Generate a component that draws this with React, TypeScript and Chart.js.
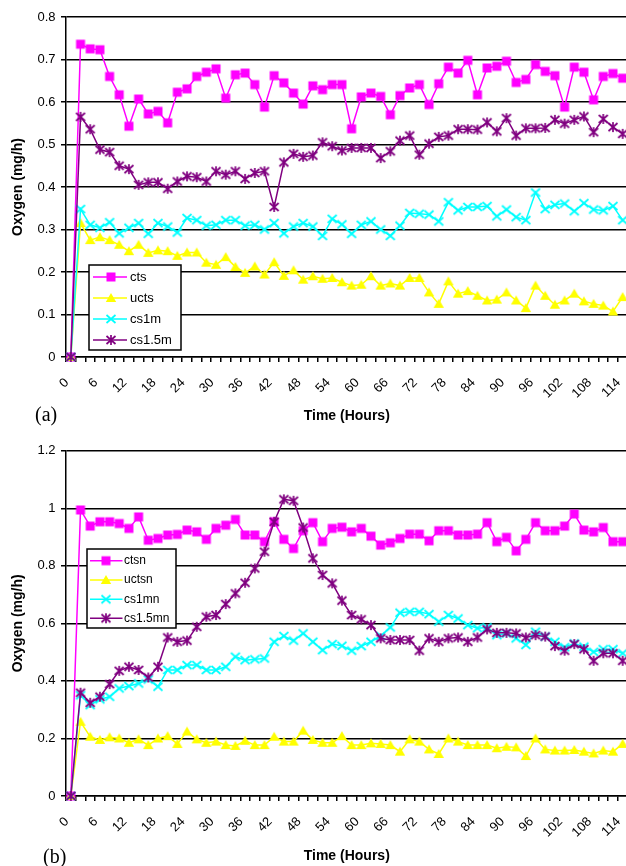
import React, { useEffect, useRef } from 'react';
import { Chart, registerables } from 'chart.js';

Chart.register(...registerables);

const FONT = '"Liberation Sans", Arial, sans-serif';
const SERIF = '"Liberation Serif", "Times New Roman", serif';

// time categories (hours)
const HOURS = [0, 2, 4, 6, 8, 10, 12, 14, 16, 18, 20, 22, 24, 26, 28, 30, 32, 34, 36, 38, 40, 42, 44, 46, 48, 50, 52, 54, 56, 58, 60, 62, 64, 66, 68, 70, 72, 74, 76, 78, 80, 82, 84, 86, 88, 90, 92, 94, 96, 98, 100, 102, 104, 106, 108, 110, 112, 114];
const HOUR_LABELS = HOURS.map((h) => String(h));

// panel (a)
const NAMES_A = ['cts', 'ucts', 'cs1m', 'cs1.5m'];
const CTS = [0, 0.736, 0.725, 0.723, 0.660, 0.617, 0.543, 0.607, 0.572, 0.578, 0.551, 0.623, 0.631, 0.660, 0.670, 0.678, 0.609, 0.664, 0.668, 0.641, 0.588, 0.662, 0.645, 0.621, 0.595, 0.638, 0.629, 0.641, 0.641, 0.537, 0.612, 0.621, 0.613, 0.570, 0.615, 0.633, 0.641, 0.594, 0.643, 0.682, 0.668, 0.698, 0.617, 0.680, 0.684, 0.696, 0.646, 0.653, 0.688, 0.672, 0.662, 0.588, 0.682, 0.670, 0.605, 0.660, 0.667, 0.656];
const UCTS = [0, 0.315, 0.275, 0.282, 0.275, 0.264, 0.249, 0.264, 0.245, 0.251, 0.249, 0.238, 0.246, 0.246, 0.222, 0.217, 0.235, 0.212, 0.198, 0.213, 0.194, 0.223, 0.191, 0.204, 0.182, 0.190, 0.184, 0.186, 0.176, 0.168, 0.170, 0.190, 0.168, 0.173, 0.168, 0.186, 0.186, 0.152, 0.125, 0.178, 0.149, 0.155, 0.144, 0.133, 0.135, 0.152, 0.133, 0.115, 0.168, 0.144, 0.123, 0.133, 0.149, 0.131, 0.125, 0.121, 0.107, 0.141];
const CS1M = [0, 0.348, 0.311, 0.304, 0.317, 0.291, 0.304, 0.315, 0.290, 0.315, 0.307, 0.293, 0.327, 0.322, 0.309, 0.311, 0.322, 0.322, 0.309, 0.311, 0.300, 0.315, 0.291, 0.307, 0.315, 0.307, 0.285, 0.325, 0.312, 0.290, 0.311, 0.319, 0.300, 0.285, 0.309, 0.339, 0.337, 0.335, 0.319, 0.364, 0.345, 0.353, 0.353, 0.355, 0.331, 0.347, 0.329, 0.322, 0.387, 0.348, 0.358, 0.361, 0.343, 0.362, 0.347, 0.345, 0.355, 0.322];
const CS15M = [0, 0.565, 0.536, 0.488, 0.482, 0.450, 0.442, 0.405, 0.411, 0.411, 0.396, 0.413, 0.425, 0.423, 0.413, 0.437, 0.429, 0.437, 0.419, 0.433, 0.437, 0.353, 0.458, 0.478, 0.471, 0.474, 0.505, 0.496, 0.486, 0.492, 0.492, 0.492, 0.468, 0.484, 0.509, 0.521, 0.476, 0.502, 0.518, 0.521, 0.536, 0.536, 0.535, 0.552, 0.531, 0.562, 0.521, 0.538, 0.538, 0.539, 0.558, 0.549, 0.558, 0.566, 0.529, 0.560, 0.541, 0.525];

// panel (b)
const NAMES_B = ['ctsn', 'uctsn', 'cs1mn', 'cs1.5mn'];
const CTSN = [0, 0.994, 0.938, 0.953, 0.953, 0.947, 0.930, 0.970, 0.889, 0.895, 0.907, 0.909, 0.924, 0.918, 0.892, 0.930, 0.941, 0.961, 0.907, 0.907, 0.884, 0.953, 0.892, 0.860, 0.922, 0.950, 0.884, 0.930, 0.934, 0.918, 0.930, 0.903, 0.872, 0.880, 0.895, 0.910, 0.910, 0.887, 0.922, 0.922, 0.907, 0.907, 0.910, 0.950, 0.884, 0.899, 0.852, 0.892, 0.950, 0.922, 0.922, 0.938, 0.980, 0.924, 0.918, 0.933, 0.884, 0.884];
const UCTSN = [0, 0.258, 0.206, 0.195, 0.204, 0.200, 0.185, 0.197, 0.177, 0.200, 0.208, 0.181, 0.224, 0.197, 0.185, 0.189, 0.177, 0.174, 0.192, 0.177, 0.177, 0.206, 0.189, 0.189, 0.227, 0.195, 0.185, 0.185, 0.208, 0.177, 0.177, 0.183, 0.181, 0.177, 0.154, 0.197, 0.189, 0.162, 0.146, 0.200, 0.189, 0.177, 0.177, 0.177, 0.166, 0.171, 0.169, 0.139, 0.200, 0.162, 0.158, 0.158, 0.160, 0.154, 0.148, 0.158, 0.154, 0.181];
const CS1MN = [0, 0.350, 0.316, 0.336, 0.345, 0.374, 0.382, 0.391, 0.405, 0.380, 0.438, 0.438, 0.455, 0.455, 0.438, 0.438, 0.449, 0.484, 0.472, 0.475, 0.478, 0.536, 0.556, 0.540, 0.565, 0.536, 0.507, 0.528, 0.522, 0.505, 0.521, 0.536, 0.556, 0.586, 0.637, 0.640, 0.640, 0.632, 0.606, 0.629, 0.617, 0.594, 0.583, 0.586, 0.559, 0.565, 0.548, 0.525, 0.571, 0.554, 0.536, 0.517, 0.530, 0.519, 0.501, 0.510, 0.510, 0.496];
const CS15MN = [0, 0.359, 0.324, 0.345, 0.389, 0.435, 0.449, 0.438, 0.412, 0.449, 0.551, 0.536, 0.540, 0.588, 0.623, 0.629, 0.667, 0.704, 0.741, 0.791, 0.849, 0.953, 1.031, 1.026, 0.933, 0.826, 0.768, 0.739, 0.679, 0.629, 0.614, 0.594, 0.548, 0.542, 0.542, 0.542, 0.505, 0.548, 0.536, 0.548, 0.551, 0.536, 0.551, 0.579, 0.567, 0.567, 0.565, 0.551, 0.559, 0.554, 0.521, 0.505, 0.528, 0.510, 0.470, 0.496, 0.496, 0.470];

const COLORS = ['#FF00FF', '#FFFF00', '#00FFFF', '#800080'];
const KINDS = ['square', 'triangle', 'x', 'star'];

function makeMarker(kind: string, color: string): HTMLCanvasElement {
  const s = 12;
  const c = document.createElement('canvas');
  c.width = s;
  c.height = s;
  const g = c.getContext('2d')!;
  const m = s / 2;
  g.fillStyle = color;
  g.strokeStyle = color;
  g.lineWidth = 1.7;
  if (kind === 'square') {
    g.fillRect(m - 4.5, m - 4.5, 9, 9);
  } else if (kind === 'triangle') {
    g.beginPath();
    g.moveTo(m, m - 5);
    g.lineTo(m + 5.2, m + 4);
    g.lineTo(m - 5.2, m + 4);
    g.closePath();
    g.fill();
  } else {
    g.beginPath();
    g.moveTo(m - 4.5, m - 4);
    g.lineTo(m + 4.5, m + 4);
    g.moveTo(m + 4.5, m - 4);
    g.lineTo(m - 4.5, m + 4);
    if (kind === 'star') {
      g.moveTo(m, m - 5);
      g.lineTo(m, m + 5);
    }
    g.stroke();
  }
  return c;
}

type LegendCfg = {
  box: { x: number; y: number; w: number; h: number };
  rowY: number[];
  lineX0: number;
  lineX1: number;
  markX: number;
  textX: number;
  fontSize: number;
  tag: string;
  tagX: number;
  tagY: number;
};

const CANVAS_W = 634;

function buildChart(
  canvas: HTMLCanvasElement,
  names: string[],
  values: number[][],
  yMax: number,
  yStep: number,
  padTop: number,
  padBottom: number,
  axisH: number,
  legend: LegendCfg
) {
  const markers = KINDS.map((k, i) => makeMarker(k, COLORS[i]));
  const legendPlugin = {
    id: 'boxLegend',
    afterDraw(chart: any) {
      const ctx = chart.ctx as CanvasRenderingContext2D;
      ctx.save();
      const { x, y, w, h } = legend.box;
      ctx.fillStyle = '#fff';
      ctx.fillRect(x, y, w, h);
      ctx.strokeStyle = '#000';
      ctx.lineWidth = 1.5;
      ctx.strokeRect(x, y, w, h);
      ctx.font = `${legend.fontSize}px ${FONT}`;
      ctx.textBaseline = 'middle';
      ctx.textAlign = 'left';
      chart.data.datasets.forEach((ds: any, k: number) => {
        const ry = legend.rowY[k];
        ctx.strokeStyle = COLORS[k];
        ctx.lineWidth = 1.5;
        ctx.beginPath();
        ctx.moveTo(legend.lineX0, ry);
        ctx.lineTo(legend.lineX1, ry);
        ctx.stroke();
        const mk = markers[k];
        ctx.drawImage(mk, legend.markX - mk.width / 2, ry - mk.height / 2);
        ctx.fillStyle = '#000';
        ctx.fillText(ds.label, legend.textX, ry);
      });
      ctx.font = `20px ${SERIF}`;
      ctx.fillStyle = '#000';
      ctx.fillText(legend.tag, legend.tagX, legend.tagY);
      ctx.restore();
    },
  };

  return new Chart(canvas, {
    type: 'line',
    data: {
      labels: HOUR_LABELS,
      datasets: names.map((n, k) => ({
        label: n,
        data: values[k],
        borderColor: COLORS[k],
        backgroundColor: COLORS[k],
        borderWidth: 1.5,
        pointStyle: markers[k] as any,
        pointRadius: 5,
        pointHoverRadius: 5,
        tension: 0,
        order: names.length - k,
        clip: 8,
      })),
    },
    options: {
      animation: false,
      responsive: false,
      maintainAspectRatio: false,
      events: [],
      layout: { padding: { top: padTop, left: 0, right: 1, bottom: padBottom } },
      plugins: { legend: { display: false }, tooltip: { enabled: false } },
      scales: {
        x: {
          type: 'category',
          offset: true,
          grid: {
            display: true,
            drawOnChartArea: false,
            drawTicks: true,
            tickLength: 5,
            offset: true,
            color: '#000',
            lineWidth: 1.5,
          },
          border: { display: true, color: '#000', width: 1.5 },
          ticks: {
            autoSkip: false,
            minRotation: 45,
            maxRotation: 45,
            padding: 13,
            labelOffset: -4,
            color: '#000',
            font: { family: FONT, size: 13 },
            callback: (_v: any, i: number) => (i % 3 === 0 ? HOUR_LABELS[i] : ''),
          },
          title: {
            display: true,
            text: 'Time (Hours)',
            color: '#000',
            font: { family: FONT, size: 14, weight: 'bold' },
            padding: { top: 0, bottom: 4 },
          },
          afterFit: (s: any) => {
            s.height = axisH;
            s.paddingLeft = 0;
            s.paddingRight = 0;
          },
        } as any,
        y: {
          min: 0,
          max: yMax,
          ticks: {
            stepSize: yStep,
            padding: 5.5,
            color: '#000',
            font: { family: FONT, size: 13 },
            callback: (v: any) => String(Math.round(Number(v) * 10) / 10),
          },
          grid: { color: '#000', lineWidth: 1.5, tickLength: 5, drawTicks: true },
          border: { display: true, color: '#000', width: 1.5 },
          title: {
            display: true,
            text: 'Oxygen (mg/h)',
            color: '#000',
            font: { family: FONT, size: 14, weight: 'bold' },
            padding: { top: 10, bottom: 0 },
          },
          afterFit: (s: any) => {
            s.width = 66;
            s.paddingTop = 0;
            s.paddingBottom = 0;
          },
        } as any,
      },
    },
    plugins: [legendPlugin],
  } as any);
}

export default function App() {
  const refA = useRef<HTMLCanvasElement>(null);
  const refB = useRef<HTMLCanvasElement>(null);

  useEffect(() => {
    const a = buildChart(refA.current!, NAMES_A, [CTS, UCTS, CS1M, CS15M], 0.8, 0.1, 17, 1.6, 71.4, {
      box: { x: 89, y: 265, w: 92, h: 85 },
      rowY: [277, 298, 319, 340],
      lineX0: 93,
      lineX1: 127,
      markX: 111,
      textX: 130,
      fontSize: 13,
      tag: '(a)',
      tagX: 35,
      tagY: 416,
    });
    const b = buildChart(refB.current!, NAMES_B, [CTSN, UCTSN, CS1MN, CS15MN], 1.2, 0.2, 20.7, 1.1, 72.9, {
      box: { x: 87, y: 119, w: 89, h: 79 },
      rowY: [130.7, 150, 169.3, 188.3],
      lineX0: 90,
      lineX1: 122.5,
      markX: 106,
      textX: 124,
      fontSize: 12,
      tag: '(b)',
      tagX: 43,
      tagY: 427.5,
    });
    return () => {
      a.destroy();
      b.destroy();
    };
  }, []);

  return (
    <div
      style={{
        position: 'fixed',
        left: 0,
        top: 0,
        width: 626,
        height: 866,
        overflow: 'hidden',
        background: '#fff',
      }}
    >
      <canvas
        ref={refA}
        width={CANVAS_W}
        height={430}
        style={{ position: 'absolute', left: 0, top: 0, width: CANVAS_W, height: 430 }}
      />
      <canvas
        ref={refB}
        width={CANVAS_W}
        height={440}
        style={{ position: 'absolute', left: 0, top: 430, width: CANVAS_W, height: 440 }}
      />
    </div>
  );
}
